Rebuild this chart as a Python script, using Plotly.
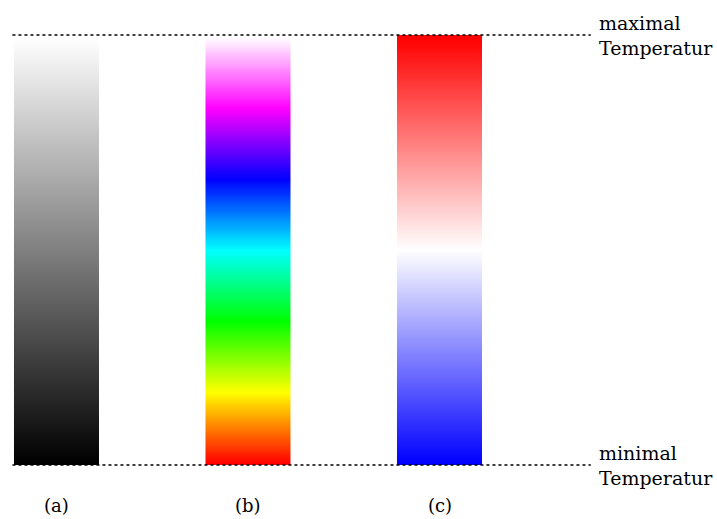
import plotly.graph_objects as go

# Temperature scale (levels, min -> max)
temperatur = list(range(0, 101))
t_min, t_max = 0, 100
panels = ["(a)", "(b)", "(c)"]
skalen = [
    [[0, "#000000"], [1, "#ffffff"]],
    [[0, "#ff0000"], [1/6, "#ffff00"], [2/6, "#00ff00"], [3/6, "#00ffff"],
     [4/6, "#0000ff"], [5/6, "#ff00ff"], [1, "#ffffff"]],
    [[0, "#0000ff"], [0.5, "#ffffff"], [1, "#ff0000"]],
]
label_max = "maximal<br>Temperatur"
label_min = "minimal<br>Temperatur"

FONT = "DejaVu Serif"
half_w = 0.222
fig = go.Figure()
edges = [t_min + (t_max - t_min) * k / len(temperatur) for k in range(len(temperatur) + 1)]
for i, (name, cs) in enumerate(zip(panels, skalen)):
    fig.add_trace(go.Heatmap(
        z=[[t] for t in temperatur],
        x=[i - half_w, i + half_w],
        y=edges,
        colorscale=cs, zmin=t_min, zmax=t_max,
        zsmooth="best", showscale=False, hoverinfo="skip",
    ))
    fig.add_annotation(x=i, y=t_min - 9.4, text=name, showarrow=False,
                       xanchor="center", yanchor="middle",
                       font=dict(family=FONT, size=18, color="black"))

x_left = -0.23
x_right = 2.79
for t in (t_min, t_max):
    fig.add_shape(type="line", x0=x_left, x1=x_right, y0=t, y1=t,
                  line=dict(color="black", width=1.3, dash="dot"))

for t, txt in ((t_max, label_max), (t_min, label_min)):
    fig.add_annotation(x=x_right + 0.03, y=t, text=txt, showarrow=False,
                       xanchor="left", yanchor="middle", align="left",
                       font=dict(family=FONT, size=19, color="black"))

fig.update_xaxes(range=[-56.5/191.5, (717-56.5)/191.5], visible=False, fixedrange=True)
fig.update_yaxes(range=[-54/4.3, 100 + 35/4.3], visible=False, fixedrange=True)
fig.update_layout(width=717, height=519, margin=dict(l=0, r=0, t=0, b=0),
                  plot_bgcolor="white", paper_bgcolor="white", showlegend=False)
fig.write_html("out.html", config={"displayModeBar": False},
               post_script="document.body.style.margin='0px';")
